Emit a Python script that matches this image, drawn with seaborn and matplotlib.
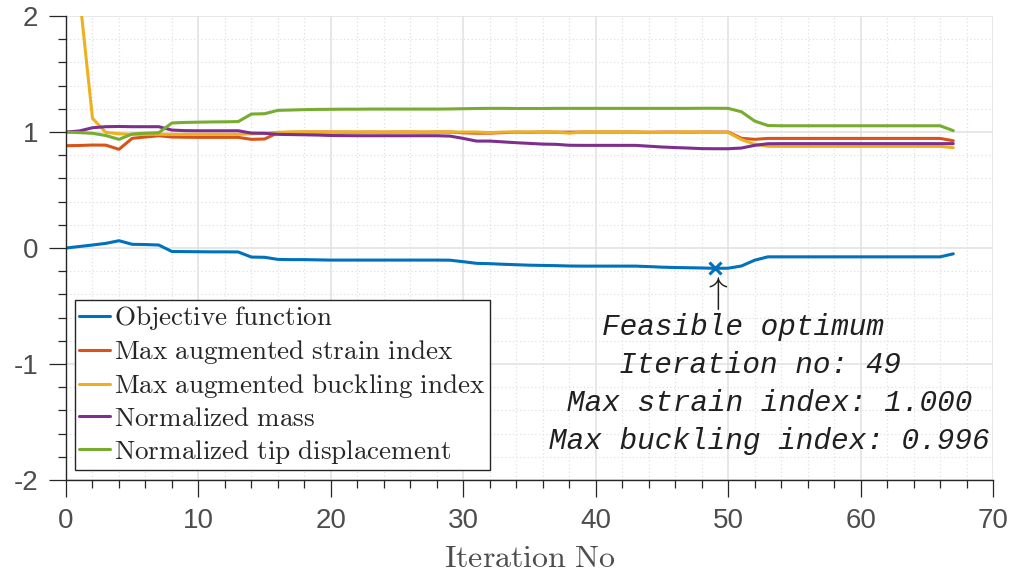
import matplotlib
matplotlib.use("Agg")
import matplotlib.pyplot as plt
from matplotlib.ticker import MultipleLocator
import seaborn as sns
import pandas as pd

iterations = list(range(68))

objective = [0.0, 0.013, 0.026, 0.04, 0.063, 0.032, 0.03, 0.026, -0.03, -0.031,
             -0.032, -0.033, -0.033, -0.034, -0.078, -0.08, -0.098, -0.1, -0.1, -0.102,
             -0.104, -0.104, -0.104, -0.104, -0.104, -0.104, -0.104, -0.104, -0.104, -0.105,
             -0.118, -0.132, -0.135, -0.14, -0.144, -0.148, -0.15, -0.152, -0.155, -0.156,
             -0.156, -0.156, -0.156, -0.156, -0.16, -0.165, -0.168, -0.17, -0.172, -0.175,
             -0.174, -0.155, -0.105, -0.076, -0.076, -0.076, -0.076, -0.076, -0.076, -0.076,
             -0.076, -0.076, -0.076, -0.076, -0.076, -0.076, -0.076, -0.05]

strain = [0.882, 0.884, 0.888, 0.887, 0.851, 0.946, 0.957, 0.968, 0.957, 0.955,
          0.954, 0.954, 0.954, 0.954, 0.937, 0.94, 0.994, 0.998, 1.0, 1.0,
          1.0, 0.999, 0.999, 1.0, 0.999, 1.0, 1.0, 0.999, 1.0, 1.0,
          0.993, 0.99, 0.99, 0.995, 0.999, 0.998, 1.0, 0.999, 0.999, 1.0,
          1.0, 1.0, 1.0, 1.0, 0.998, 1.0, 1.0, 0.999, 1.0, 1.0,
          1.0, 0.946, 0.937, 0.945, 0.945, 0.945, 0.945, 0.945, 0.945, 0.945,
          0.945, 0.945, 0.945, 0.945, 0.945, 0.945, 0.945, 0.925]

buckling = [3.5, 2.2, 1.118, 0.997, 0.985, 0.98, 0.98, 0.98, 0.98, 0.98,
            0.98, 0.98, 0.98, 0.98, 0.985, 0.99, 0.998, 1.0, 1.0, 1.0,
            1.0, 1.0, 1.0, 1.0, 1.0, 1.0, 1.0, 1.0, 1.0, 1.0,
            1.0, 1.0, 0.995, 1.0, 1.0, 1.0, 1.0, 1.0, 0.99, 1.0,
            1.0, 1.0, 1.0, 1.0, 0.998, 0.996, 0.998, 1.0, 0.998, 0.996,
            0.996, 0.935, 0.895, 0.877, 0.876, 0.876, 0.876, 0.876, 0.876, 0.876,
            0.876, 0.876, 0.876, 0.876, 0.876, 0.876, 0.876, 0.865]

mass = [1.0, 1.009, 1.037, 1.046, 1.048, 1.046, 1.046, 1.046, 1.017, 1.012,
        1.011, 1.011, 1.011, 1.011, 0.991, 0.989, 0.98, 0.978, 0.976, 0.974,
        0.97, 0.969, 0.968, 0.968, 0.968, 0.968, 0.968, 0.968, 0.968, 0.965,
        0.945, 0.922, 0.922, 0.915, 0.908, 0.902, 0.896, 0.894, 0.886, 0.885,
        0.885, 0.885, 0.885, 0.885, 0.878, 0.871, 0.866, 0.862, 0.857, 0.856,
        0.856, 0.862, 0.885, 0.899, 0.9, 0.9, 0.9, 0.9, 0.9, 0.9,
        0.9, 0.9, 0.9, 0.9, 0.9, 0.9, 0.9, 0.9]

tip = [1.0, 0.995, 0.989, 0.97, 0.937, 0.983, 0.99, 0.994, 1.078, 1.083,
       1.085, 1.087, 1.088, 1.09, 1.155, 1.158, 1.187, 1.19, 1.193, 1.195,
       1.196, 1.197, 1.197, 1.198, 1.198, 1.198, 1.198, 1.198, 1.198, 1.199,
       1.201, 1.203, 1.204, 1.204, 1.203, 1.203, 1.203, 1.204, 1.204, 1.204,
       1.204, 1.204, 1.204, 1.204, 1.204, 1.204, 1.204, 1.204, 1.205, 1.205,
       1.204, 1.175, 1.095, 1.056, 1.054, 1.054, 1.054, 1.054, 1.054, 1.054,
       1.054, 1.054, 1.054, 1.054, 1.054, 1.054, 1.054, 1.012]

labels = ["Objective function", "Max augmented strain index",
          "Max augmented buckling index", "Normalized mass",
          "Normalized tip displacement"]
colors = ["#0072BD", "#D95319", "#EDB120", "#7E2F8E", "#77AC30"]
opt_iter = 49

sns.set_style("ticks")
plt.rcParams["font.family"] = ["Liberation Sans", "DejaVu Sans"]
plt.rcParams["mathtext.fontset"] = "cm"
plt.rcParams["axes.unicode_minus"] = False

data = pd.DataFrame({"Iteration": iterations, labels[0]: objective, labels[1]: strain,
                     labels[2]: buckling, labels[3]: mass, labels[4]: tip})

fig, ax = plt.subplots(figsize=(10.14, 5.73), dpi=100)
fig.subplots_adjust(left=0.0651, right=0.9793, bottom=0.1623, top=0.972)

for lbl, c in zip(labels, colors):
    tex = r"$\mathrm{" + lbl.replace(" ", r"\ ") + "}$"
    sns.lineplot(data=data, x="Iteration", y=lbl, color=c, lw=2.2, label=tex, ax=ax)

# optimum marker + arrow under it
ax.plot(opt_iter, objective[opt_iter], marker="x", color=colors[0], ms=8, mew=2.2)
ax.text(opt_iter, objective[opt_iter] - 0.06, r"$\uparrow$", ha="center", va="top",
        fontsize=27, color="#202020")

info = ["Feasible optimum   ",
        f"Iteration no: {opt_iter} ",
        f"Max strain index: {strain[opt_iter]:.3f}",
        f"Max buckling index: {buckling[opt_iter]:.3f}"]
ax.text(53.1, -0.56, "\n".join(info), ha="center", va="top", multialignment="center",
        family="Liberation Mono", style="italic", fontsize=21.2, linespacing=1.46,
        color="#202020")

ax.set_xlim(0, 70)
ax.set_ylim(-2, 2)
ax.set_xticks(range(0, 71, 10))
ax.set_yticks([-2, -1, 0, 1, 2])
ax.xaxis.set_minor_locator(MultipleLocator(2))
ax.yaxis.set_minor_locator(MultipleLocator(0.2))
ax.grid(which="major", color="#e3e3e3", lw=1.2)
ax.grid(which="minor", color="#e0e0e0", lw=0.9, ls=(0, (1, 2)))
ax.set_axisbelow(True)
for s in ["top", "right"]:
    ax.spines[s].set_visible(False)
for s in ["left", "bottom"]:
    ax.spines[s].set_color("#262626")
    ax.spines[s].set_linewidth(1.0)
ax.tick_params(which="major", direction="out", length=12, width=0.9, color="#262626",
               labelsize=20, labelcolor="#4d4d4d", pad=8)
ax.tick_params(which="minor", direction="out", length=6, width=0.9, color="#262626")
ax.set_ylabel("")
ax.set_xlabel(r"$\mathrm{Iteration\ No}$", fontsize=23, color="#4d4d4d", labelpad=7)

leg = ax.legend(loc="lower left", bbox_to_anchor=(0.0097, 0.0216), borderaxespad=0,
                fontsize=19.5, handlelength=1.15, handletextpad=0.15, labelspacing=0.22,
                borderpad=0.15, fancybox=False, framealpha=1, edgecolor="#262626")
leg.get_frame().set_linewidth(1.0)

fig.savefig("out.png", dpi=100)
